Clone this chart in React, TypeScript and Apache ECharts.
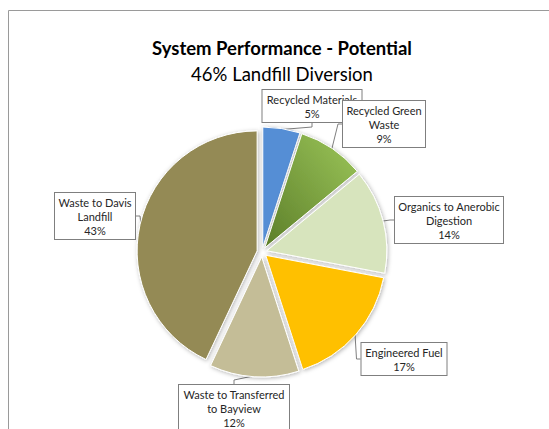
import React, { useEffect, useRef } from "react";
import * as echarts from "echarts";

const categories = [
  "Recycled Materials",
  "Recycled Green Waste",
  "Organics to Anerobic Digestion",
  "Engineered Fuel",
  "Waste to Transferred to Bayview",
  "Waste to Davis Landfill",
];
const labelTexts = [
  "Recycled Materials",
  "Recycled Green\nWaste",
  "Organics to Anerobic\nDigestion",
  "Engineered Fuel",
  "Waste to Transferred\nto Bayview",
  "Waste to Davis\nLandfill",
];
const values = [5, 9, 14, 17, 12, 43];

const titleText = "System Performance - Potential";
const subtitleText = "46% Landfill Diversion";

// layout (label box centres and widths, in px)
const labelPos = [
  [312, 106],
  [384, 124],
  [449, 220],
  [404, 359],
  [234, 408],
  [95, 216],
];
const labelWidths = [91, 74, 100, 77, 102, 72];

const colors: any[] = [
  "#558ED5",
  {
    type: "linear",
    x: 1,
    y: 0,
    x2: 0,
    y2: 1,
    colorStops: [
      { offset: 0, color: "#9CC65A" },
      { offset: 1, color: "#5C7E29" },
    ],
  },
  "#D7E4BD",
  "#FFC000",
  "#C4BD97",
  "#948A54",
];

export default function App() {
  const ref = useRef<HTMLDivElement>(null);
  useEffect(() => {
    if (!ref.current) return;
    const chart = echarts.init(ref.current, null, { renderer: "svg" });
    const font = "Lato, 'Open Sans', sans-serif";
    chart.setOption({
      animation: false,
      backgroundColor: "#ffffff",
      title: [
        {
          text: titleText,
          left: 277,
          top: 33,
          textAlign: "center",
          textStyle: { fontFamily: font, fontSize: 18.5, fontWeight: "bold", color: "#000" },
        },
        {
          text: subtitleText,
          left: 277,
          top: 59,
          textAlign: "center",
          textStyle: { fontFamily: font, fontSize: 18.5, fontWeight: "normal", color: "#000" },
        },
      ],
      graphic: [
        {
          type: "rect",
          shape: { x: 8.5, y: 10.5, width: 600, height: 600 },
          style: { fill: "none", stroke: "#9a9a9a", lineWidth: 1 },
          silent: true,
          z: -1,
        },
      ],
      series: [
        {
          type: "pie",
          center: [262, 252],
          radius: 120,
          startAngle: 90,
          clockwise: true,
          selectedMode: "multiple",
          selectedOffset: 5,
          emphasis: { disabled: true },
          z: 2,
          itemStyle: {
            borderColor: "#ffffff",
            borderWidth: 1,
            shadowBlur: 4,
            shadowColor: "rgba(0,0,0,0.3)",
            shadowOffsetX: 1,
            shadowOffsetY: 1,
          },
          label: { show: false },
          labelLine: { show: false },
          data: categories.map((name, i) => ({
            name,
            value: values[i],
            selected: true,
            itemStyle: { color: colors[i] },
          })),
        },
        {
          type: "pie",
          center: [262, 252],
          radius: 124,
          startAngle: 90,
          clockwise: true,
          silent: true,
          z: 1,
          avoidLabelOverlap: false,
          emphasis: { disabled: true },
          itemStyle: { color: "rgba(0,0,0,0)" },
          label: {
            show: true,
            position: "outside",
            fontFamily: font,
            fontSize: 11,
            lineHeight: 14,
            color: "#262626",
            backgroundColor: "#ffffff",
            borderColor: "#7f7f7f",
            borderWidth: 1,
            padding: [2, 4],
            align: "center",
            overflow: "none",
            formatter: (p: any) => `${labelTexts[p.dataIndex]}\n${p.value}%`,
          },
          labelLine: {
            show: true,
            length: 4,
            length2: 4,
            lineStyle: { color: "#7f7f7f", width: 1 },
          },
          labelLayout: (params: any) => {
            const i = params.dataIndex;
            return {
              x: labelPos[i][0],
              y: labelPos[i][1],
              align: "center",
              verticalAlign: "middle",
            };
          },
          data: categories.map((name, i) => ({
            name,
            value: values[i],
            label: { width: labelWidths[i] },
          })),
        },
      ],
    });
    return () => chart.dispose();
  }, []);
  return (
    <div
      ref={ref}
      style={{ position: "absolute", left: 0, top: 0, width: 549, height: 429 }}
    />
  );
}
